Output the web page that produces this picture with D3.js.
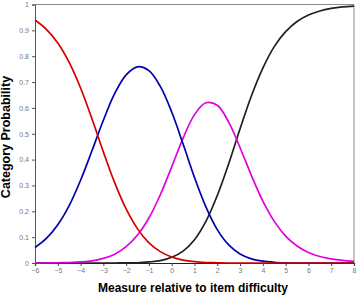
<!DOCTYPE html>
<html><head><meta charset="utf-8">
<script src="https://cdn.jsdelivr.net/npm/d3@7"></script>
<style>body{margin:0;background:#fff}svg{display:block}</style>
</head><body>
<svg id="c" width="358" height="295"></svg>
<script>
const measures = [-6,-5.5,-5,-4.5,-4,-3.5,-3,-2.5,-2,-1.5,-1,-0.5,0,0.5,1,1.5,2,2.5,3,3.5,4,4.5,5,5.5,6,6.5,7,7.5,8];
const cat0 = [0.940,0.904,0.851,0.776,0.677,0.558,0.430,0.310,0.209,0.132,0.078,0.044,0.023,0.011,0.005,0.002,0.001,0.000,0.000,0,0,0,0,0,0,0,0,0,0];
const cat1 = [0.060,0.095,0.148,0.222,0.320,0.434,0.552,0.656,0.728,0.759,0.744,0.683,0.584,0.460,0.331,0.217,0.129,0.070,0.035,0.016,0.007,0.003,0.001,0.000,0.000,0,0,0,0];
const cat2 = [0.000,0.000,0.001,0.002,0.004,0.008,0.018,0.034,0.063,0.108,0.174,0.264,0.372,0.483,0.574,0.620,0.610,0.545,0.446,0.338,0.239,0.161,0.104,0.066,0.041,0.025,0.016,0.010,0.006];
const cat3 = [0,0,0,0,0,0,0.000,0.000,0.001,0.001,0.004,0.009,0.022,0.046,0.090,0.161,0.261,0.384,0.519,0.647,0.754,0.837,0.895,0.934,0.959,0.975,0.985,0.991,0.994];
const xTicks = [-6,-5,-4,-3,-2,-1,0,1,2,3,4,5,6,7,8];
const yTicks = [0,0.1,0.2,0.3,0.4,0.5,0.6,0.7,0.8,0.9,1];
const seriesNames = ["cat3","cat2","cat1","cat0"];
const seriesColors = {cat0:"#d40000",cat1:"#0000b4",cat2:"#e000e0",cat3:"#202020"};
const seriesData = {cat0, cat1, cat2, cat3};

const svg = d3.select("#c");
const L=35, R=354, T=4.5, B=263;
const x = d3.scaleLinear().domain([-6,8]).range([L,R]);
const y = d3.scaleLinear().domain([0,1]).range([B,T]);

svg.append("line").attr("x1",L).attr("x2",R).attr("y1",T).attr("y2",T).attr("stroke","#8a8a8a").attr("stroke-width",1);
svg.append("line").attr("x1",R).attr("x2",R).attr("y1",T).attr("y2",B).attr("stroke","#8a8a8a").attr("stroke-width",1);

const yAx = svg.append("g").attr("transform",`translate(${L},0)`)
  .call(d3.axisLeft(y).tickValues(yTicks).tickSize(3).tickPadding(3).tickFormat(d=>d3.format("")(+d.toFixed(1))));
yAx.select(".domain").attr("stroke","#555");
yAx.selectAll(".tick line").attr("stroke","#555");
yAx.selectAll("text").attr("fill","#777").style("font-family","Arial, 'Liberation Sans', sans-serif").style("font-size","7px");

const xAx = svg.append("g").attr("transform",`translate(0,${B})`)
  .call(d3.axisBottom(x).tickValues(xTicks).tickSize(3).tickPadding(2).tickFormat(d3.format("")));
xAx.select(".domain").attr("stroke","#222").attr("stroke-width",1.2);
xAx.selectAll(".tick line").attr("stroke","#444");
xAx.selectAll("text").attr("fill","#777").style("font-family","Arial, 'Liberation Sans', sans-serif").style("font-size","7px");

const line = d3.line().x((d,i)=>x(measures[i])).y(d=>y(d)).curve(d3.curveCatmullRom.alpha(0.5));
seriesNames.forEach(n=>{
  svg.append("path").datum(seriesData[n]).attr("d",line).attr("fill","none")
    .attr("stroke",seriesColors[n]).attr("stroke-width",1.7);
});

svg.append("text").attr("x",193).attr("y",292).attr("text-anchor","middle")
  .style("font-family","Arial, 'Liberation Sans', sans-serif").style("font-weight","bold").style("font-size","12px")
  .attr("fill","#000").text("Measure relative to item difficulty");
svg.append("text").attr("transform","translate(10,137) rotate(-90)").attr("text-anchor","middle")
  .style("font-family","Arial, 'Liberation Sans', sans-serif").style("font-weight","bold").style("font-size","12.5px")
  .attr("fill","#000").text("Category Probability");
</script>
</body></html>
